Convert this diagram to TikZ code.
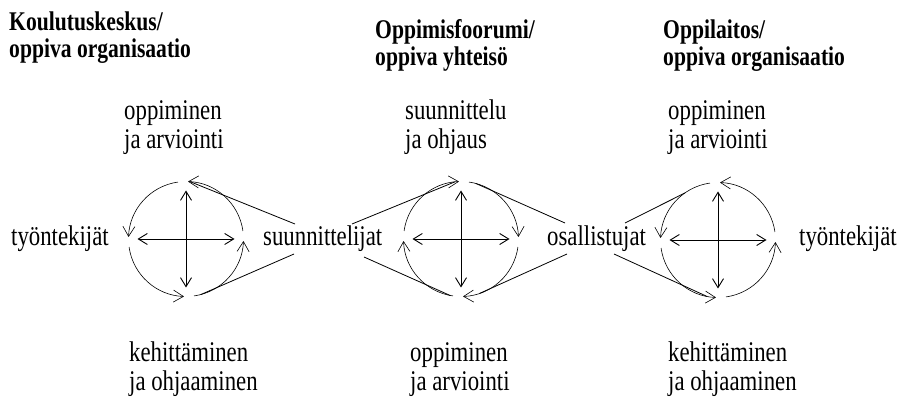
\documentclass[tikz,border=0pt]{standalone}
\usepackage{fontspec}
\setmainfont{Liberation Serif}[FakeStretch=0.8]
\usetikzlibrary{arrows.meta}

\begin{document}
\begin{tikzpicture}[x=1pt,y=1pt]
\tikzset{
    ring/.style={circle, minimum size=115pt, inner sep=0pt, outer sep=0pt},
    flow/.style={line width=0.6pt, -{Straight Barb[length=10pt,width=12pt]}},
    cross/.style={line width=0.9pt, {Straight Barb[length=9pt,width=11pt]}-{Straight Barb[length=9pt,width=11pt]}, shorten <=9pt, shorten >=9pt},
    link/.style={line width=0.8pt},
    lbl/.style={font=\fontsize{28.5}{29}\selectfont, align=left, anchor=base west, inner sep=0pt},
    hdr/.style={font=\fontsize{27}{27}\selectfont\bfseries, align=left, anchor=base west, inner sep=0pt}
}
\useasboundingbox (0,0) rectangle (898,-398);

% Circles
\node[ring] (ringa) at (186,-239){};
\node[ring] (ringb) at (461,-239){};
\node[ring] (ringc) at (718,-240){};

\draw[flow] (ringa.8) arc[start angle=8, end angle=88, radius=57.5];
\draw[flow] (ringa.98) arc[start angle=98, end angle=178, radius=57.5];
\draw[flow] (ringa.188) arc[start angle=188, end angle=268, radius=57.5];
\draw[flow] (ringa.278) arc[start angle=278, end angle=358, radius=57.5];

\draw[flow] (ringb.82) arc[start angle=82, end angle=2, radius=57.5];
\draw[flow] (ringb.352) arc[start angle=352, end angle=272, radius=57.5];
\draw[flow] (ringb.262) arc[start angle=262, end angle=182, radius=57.5];
\draw[flow] (ringb.172) arc[start angle=172, end angle=92, radius=57.5];

\draw[flow] (ringc.8) arc[start angle=8, end angle=88, radius=57.5];
\draw[flow] (ringc.98) arc[start angle=98, end angle=178, radius=57.5];
\draw[flow] (ringc.188) arc[start angle=188, end angle=268, radius=57.5];
\draw[flow] (ringc.278) arc[start angle=278, end angle=358, radius=57.5];

\draw[cross] (ringa.west) -- (ringa.east);
\draw[cross] (ringa.north) -- (ringa.south);
\draw[cross] (ringb.west) -- (ringb.east);
\draw[cross] (ringb.north) -- (ringb.south);
\draw[cross] (ringc.west) -- (ringc.east);
\draw[cross] (ringc.north) -- (ringc.south);

% Headings (anchored at the last line)
\node[hdr] (hdra) at (9,-58){Koulutuskeskus/\\oppiva organisaatio};
\node[hdr] (hdrb) at (375,-66){Oppimisfoorumi/\\oppiva yhteisö};
\node[hdr] (hdrc) at (663,-66){Oppilaitos/\\oppiva organisaatio};

% Labels
\node[lbl] (topa) at (124,-149){oppiminen\\ja arviointi};
\node[lbl] (topb) at (405,-149){suunnittelu\\ja ohjaus};
\node[lbl] (topc) at (668,-149){oppiminen\\ja arviointi};

\node[lbl] (bota) at (129,-391){kehittäminen\\ja ohjaaminen};
\node[lbl] (botb) at (410,-391){oppiminen\\ja arviointi};
\node[lbl] (botc) at (668,-391){kehittäminen\\ja ohjaaminen};

\node[lbl] (tyoa) at (11,-246){työntekijät};
\node[lbl] (suun) at (263,-246){suunnittelijat};
\node[lbl] (osal) at (547,-246){osallistujat};
\node[lbl] (tyob) at (799,-246){työntekijät};

% Lines
\coordinate (suna) at (295,-224);
\coordinate (sunb) at (294,-254);
\coordinate (sunc) at (352,-224);
\coordinate (sund) at (364,-257);
\coordinate (osaa) at (565,-223);
\coordinate (osab) at (567,-254);
\coordinate (osac) at (625,-223);
\coordinate (osad) at (614,-254);

\draw[link] (ringa.86) -- (suna);
\draw[link] (ringa.285) -- (sunb);
\draw[link] (sunc) -- (ringb.96);
\draw[link] (sund) -- (ringb.259);
\draw[link] (ringb.75) -- (osaa);
\draw[link] (ringb.289) -- (osab);
\draw[link] (osac) -- (ringc.125);
\draw[link] (osad) -- (ringc.259);

\end{tikzpicture}
\end{document}
